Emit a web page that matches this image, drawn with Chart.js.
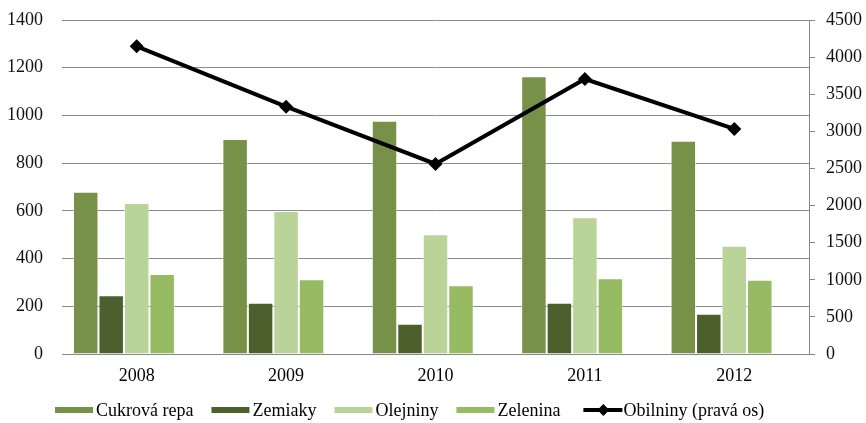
<!DOCTYPE html>
<html>
<head>
<meta charset="utf-8">
<script src="https://cdn.jsdelivr.net/npm/chart.js@4"></script>
<style>
    html, body { margin: 0; padding: 0; background: #fff; }
    #wrap { width: 866px; height: 423px; }
</style>
</head>
<body>
<div id="wrap"><canvas id="chart" width="866" height="423"></canvas></div>
<script>
// Data
const years = ['2008', '2009', '2010', '2011', '2012'];
const cukrovaRepa = [680, 901, 978, 1164, 894];
const zemiaky = [246, 215, 127, 215, 169];
const olejniny = [633, 599, 502, 573, 454];
const zelenina = [335, 313, 288, 317, 311];
const obilniny = [4146, 3332, 2560, 3705, 3032];

const serif = '"Liberation Serif", "DejaVu Serif", serif';
const emptySlot = years.map(() => null); // Excel leaves a 5th (empty) bar slot per year

// Legend drawn by hand: bars first, then the line, in one row under the axis
const bottomLegend = {
    id: 'bottomLegend',
    afterDraw(chart) {
        const ctx = chart.ctx;
        const order = [1, 2, 3, 4, 0];
        const cy = 410;
        let x = 55;
        ctx.save();
        ctx.font = '18px ' + serif;
        ctx.textBaseline = 'middle';
        order.forEach(i => {
            const ds = chart.data.datasets[i];
            if (ds.type === 'line') {
                x += 5;
                ctx.strokeStyle = '#000';
                ctx.lineWidth = 4;
                ctx.beginPath();
                ctx.moveTo(x, cy);
                ctx.lineTo(x + 39, cy);
                ctx.stroke();
                const cx = x + 20;
                ctx.fillStyle = '#000';
                ctx.beginPath();
                ctx.moveTo(cx, cy - 6);
                ctx.lineTo(cx + 6, cy);
                ctx.lineTo(cx, cy + 6);
                ctx.lineTo(cx - 6, cy);
                ctx.closePath();
                ctx.fill();
                x += 40;
            } else {
                ctx.fillStyle = ds.backgroundColor;
                ctx.fillRect(x, cy - 3, 38, 6);
                x += 41;
            }
            ctx.fillStyle = '#000';
            ctx.fillText(ds.label, x, cy + 1);
            x += ctx.measureText(ds.label).width + 18;
        });
        ctx.restore();
    }
};

// fixed axis box: width set, no extra label overflow above/below the plot
function fixVertical(width) {
    return function (axis) {
        axis.width = width;
        axis.paddingTop = 0;
        axis.paddingBottom = 0;
    };
}

const ctx = document.getElementById('chart').getContext('2d');
new Chart(ctx, {
    data: {
        labels: years,
        datasets: [
            {
                type: 'line',
                label: 'Obilniny (pravá os)',
                data: obilniny,
                yAxisID: 'y1',
                borderColor: '#000',
                backgroundColor: '#000',
                borderWidth: 4,
                pointStyle: 'rectRot',
                pointRadius: 7,
                pointBorderWidth: 0,
                tension: 0,
                order: 0
            },
            {
                type: 'bar',
                label: 'Cukrová repa',
                data: cukrovaRepa,
                backgroundColor: 'rgb(119, 146, 72)',
                borderColor: 'rgba(255,255,255,0.5)',
                borderWidth: 1,
                order: 1
            },
            {
                type: 'bar',
                label: 'Zemiaky',
                data: zemiaky,
                backgroundColor: 'rgb(76, 96, 45)',
                borderColor: 'rgba(255,255,255,0.5)',
                borderWidth: 1,
                order: 1
            },
            {
                type: 'bar',
                label: 'Olejniny',
                data: olejniny,
                backgroundColor: 'rgb(185, 211, 153)',
                borderColor: 'rgba(255,255,255,0.5)',
                borderWidth: 1,
                order: 1
            },
            {
                type: 'bar',
                label: 'Zelenina',
                data: zelenina,
                backgroundColor: 'rgb(151, 187, 99)',
                borderColor: 'rgba(255,255,255,0.5)',
                borderWidth: 1,
                order: 1
            },
            {
                type: 'bar',
                label: '',
                data: emptySlot,
                backgroundColor: 'rgba(0,0,0,0)',
                order: 1
            }
        ]
    },
    options: {
        responsive: false,
        animation: false,
        layout: { padding: { top: 20, bottom: 29, left: 0, right: 0 } },
        datasets: {
            bar: { categoryPercentage: 0.853, barPercentage: 1.0 }
        },
        plugins: {
            tooltip: { enabled: false },
            legend: { display: false }
        },
        scales: {
            x: {
                grid: { display: false },
                border: { display: true, color: '#888', width: 1 },
                ticks: { font: { family: serif, size: 18 }, color: '#000', padding: 3 },
                afterFit(axis) { axis.height = 40; }
            },
            y: {
                position: 'left',
                min: 0,
                max: 1400,
                ticks: {
                    stepSize: 200,
                    font: { family: serif, size: 18 },
                    color: '#111',
                    padding: 19,
                    callback: v => String(v)
                },
                grid: { color: '#8c8c8c', lineWidth: 1, drawTicks: false },
                border: { display: false },
                afterFit: fixVertical(62)
            },
            y1: {
                position: 'right',
                min: 0,
                max: 4500,
                ticks: {
                    stepSize: 500,
                    font: { family: serif, size: 18 },
                    color: '#111',
                    padding: 11,
                    callback: v => String(v)
                },
                grid: { drawOnChartArea: false, drawTicks: true, tickLength: 6, color: '#888' },
                border: { display: true, color: '#888', width: 1 },
                afterFit: fixVertical(57)
            }
        }
    },
    plugins: [bottomLegend]
});
</script>
</body>
</html>
